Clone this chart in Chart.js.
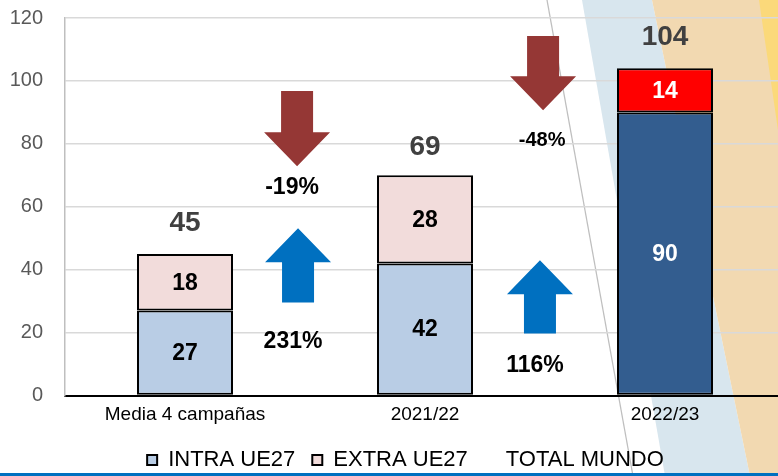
<!DOCTYPE html>
<html>
<head>
<meta charset="utf-8">
<script src="https://cdn.jsdelivr.net/npm/chart.js@4.4.0/dist/chart.umd.min.js"></script>
<style>
  body { margin: 0; background: #fff; }
  #wrap { position: relative; width: 778px; height: 476px; overflow: hidden; }
  #wrap canvas { position: absolute; left: 0; top: 0; }
  #rule { position: absolute; left: 0; right: 0; top: 473px; height: 3px; background: #0070C0; }
</style>
</head>
<body>
<div id="wrap">
  <canvas id="chart" width="785" height="482"></canvas>
  <div id="rule"></div>
</div>
<script>
// Data
const campaigns = ['Media 4 campañas', '2021/22', '2022/23'];
const intraUE27 = [27, 42, 90];
const extraUE27 = [18, 28, 14];
const totalMundo = [45, 69, 104];
const changeLabels = ['-19%', '231%', '-48%', '116%'];

const FONT = '"Liberation Sans", Arial, sans-serif';
Chart.defaults.font.family = FONT;

// Change arrows between campaigns (x in category units, y in axis units)
const arrows = [
  { x: 0.467, from: 96.8, to: 72.9, color: '#953735' },
  { x: 0.471, from: 29.6, to: 53.2, color: '#0070C0' },
  { x: 1.492, from: 114.3, to: 90.7, color: '#953735' },
  { x: 1.479, from: 19.7, to: 43.0, color: '#0070C0' }
];
const notePos = [
  { x: 0.446, y: 66.2, size: 23 },
  { x: 0.450, y: 17.2, size: 23 },
  { x: 1.488, y: 81.2, size: 20 },
  { x: 1.458, y: 9.5, size: 23 }
];

// Decorative background stripes on the right
const backdrop = {
  id: 'backdrop',
  beforeDraw(chart) {
    const ctx = chart.ctx;
    const poly = (color, pts) => {
      ctx.fillStyle = color;
      ctx.beginPath();
      pts.forEach((p, i) => i ? ctx.lineTo(p[0], p[1]) : ctx.moveTo(p[0], p[1]));
      ctx.closePath();
      ctx.fill();
    };
    ctx.save();
    poly('#D8E6EE', [[582, 0], [652, 0], [750, 476], [665, 476]]);
    poly('#F2D9B1', [[652, 0], [785, 0], [785, 482], [750, 476]]);
    poly('#FBD97A', [[759, 0], [785, 0], [785, 178]]);
    ctx.strokeStyle = '#BFBFBF';
    ctx.lineWidth = 1.3;
    ctx.beginPath();
    ctx.moveTo(547, 0);
    ctx.lineTo(633, 476);
    ctx.stroke();
    ctx.restore();
  },
  // nudge the centred legend a little to the right, as in the original
  afterLayout(chart) {
    chart.legend.left += 8;
    chart.legend.right += 8;
  }
};

// Value labels, totals, arrows and percentages
const annotations = {
  id: 'annotations',
  afterDatasetsDraw(chart) {
    const ctx = chart.ctx;
    const xs = chart.scales.x, ys = chart.scales.y;
    ctx.save();
    ctx.textAlign = 'center';
    ctx.textBaseline = 'middle';

    // segment values
    [intraUE27, extraUE27].forEach((vals, di) => {
      chart.getDatasetMeta(di).data.forEach((bar, i) => {
        ctx.font = 'bold 23px ' + FONT;
        ctx.fillStyle = i === 2 ? '#FFFFFF' : '#000000';
        ctx.fillText(vals[i], bar.x, (bar.y + bar.base) / 2 + 1);
      });
    });

    // totals
    chart.getDatasetMeta(2).data.forEach((pt, i) => {
      ctx.font = 'bold 28px ' + FONT;
      ctx.fillStyle = '#404040';
      ctx.fillText(totalMundo[i], pt.x, pt.y - 31);
    });

    // arrows
    arrows.forEach(a => {
      const cx = xs.getPixelForValue(a.x);
      const tail = ys.getPixelForValue(a.from);
      const tip = ys.getPixelForValue(a.to);
      const dir = tip > tail ? 1 : -1;
      const neck = tip - dir * 34;
      ctx.fillStyle = a.color;
      ctx.beginPath();
      ctx.moveTo(cx - 16, tail);
      ctx.lineTo(cx + 16, tail);
      ctx.lineTo(cx + 16, neck);
      ctx.lineTo(cx + 33, neck);
      ctx.lineTo(cx, tip);
      ctx.lineTo(cx - 33, neck);
      ctx.lineTo(cx - 16, neck);
      ctx.closePath();
      ctx.fill();
    });

    // percentages
    changeLabels.forEach((t, i) => {
      const p = notePos[i];
      ctx.font = 'bold ' + p.size + 'px ' + FONT;
      ctx.fillStyle = '#000000';
      ctx.fillText(t, xs.getPixelForValue(p.x), ys.getPixelForValue(p.y));
    });
    ctx.restore();
  }
};

new Chart(document.getElementById('chart'), {
  type: 'bar',
  data: {
    labels: campaigns,
    datasets: [
      {
        label: 'INTRA UE27',
        data: intraUE27,
        backgroundColor: ['#B9CDE5', '#B9CDE5', '#335D8F'],
        borderColor: '#000000',
        borderWidth: 2,
        borderSkipped: false,
        stack: 'world'
      },
      {
        label: 'EXTRA UE27',
        data: extraUE27,
        backgroundColor: ['#F2DCDB', '#F2DCDB', '#FF0000'],
        borderColor: '#000000',
        borderWidth: 2,
        borderSkipped: false,
        stack: 'world'
      },
      {
        type: 'line',
        label: 'TOTAL MUNDO',
        data: totalMundo,
        showLine: false,
        pointRadius: 0,
        backgroundColor: 'rgba(0,0,0,0)',
        borderColor: 'rgba(0,0,0,0)',
        borderWidth: 0,
        stack: 'total'
      }
    ]
  },
  options: {
    responsive: false,
    animation: false,
    devicePixelRatio: 1,
    barPercentage: 0.4,
    categoryPercentage: 1,
    layout: { autoPadding: false, padding: { left: 10, right: 0, top: 18, bottom: 1 } },
    scales: {
      x: {
        stacked: true,
        grid: { display: false, drawTicks: false },
        border: { display: true, color: '#000000', width: 2 },
        ticks: { color: '#000000', font: { size: 19 }, padding: 8 },
        afterFit(scale) { scale.paddingLeft = 0; scale.paddingRight = 0; scale.height = 36.5; }
      },
      y: {
        stacked: true,
        min: 0,
        max: 120,
        ticks: { stepSize: 20, color: '#595959', font: { size: 20 }, padding: 22 },
        grid: { color: '#D9D9D9', lineWidth: 1.5, drawTicks: false },
        border: { color: '#BFBFBF', width: 1.5 },
        afterFit(scale) { scale.paddingTop = 0; scale.paddingBottom = 0; scale.width = 55; }
      }
    },
    plugins: {
      legend: {
        position: 'bottom',
        labels: {
          color: '#000000',
          font: { size: 22 },
          boxWidth: 10,
          boxHeight: 10,
          padding: 17
        }
      },
      tooltip: { enabled: false }
    }
  },
  plugins: [backdrop, annotations]
});
</script>
</body>
</html>
